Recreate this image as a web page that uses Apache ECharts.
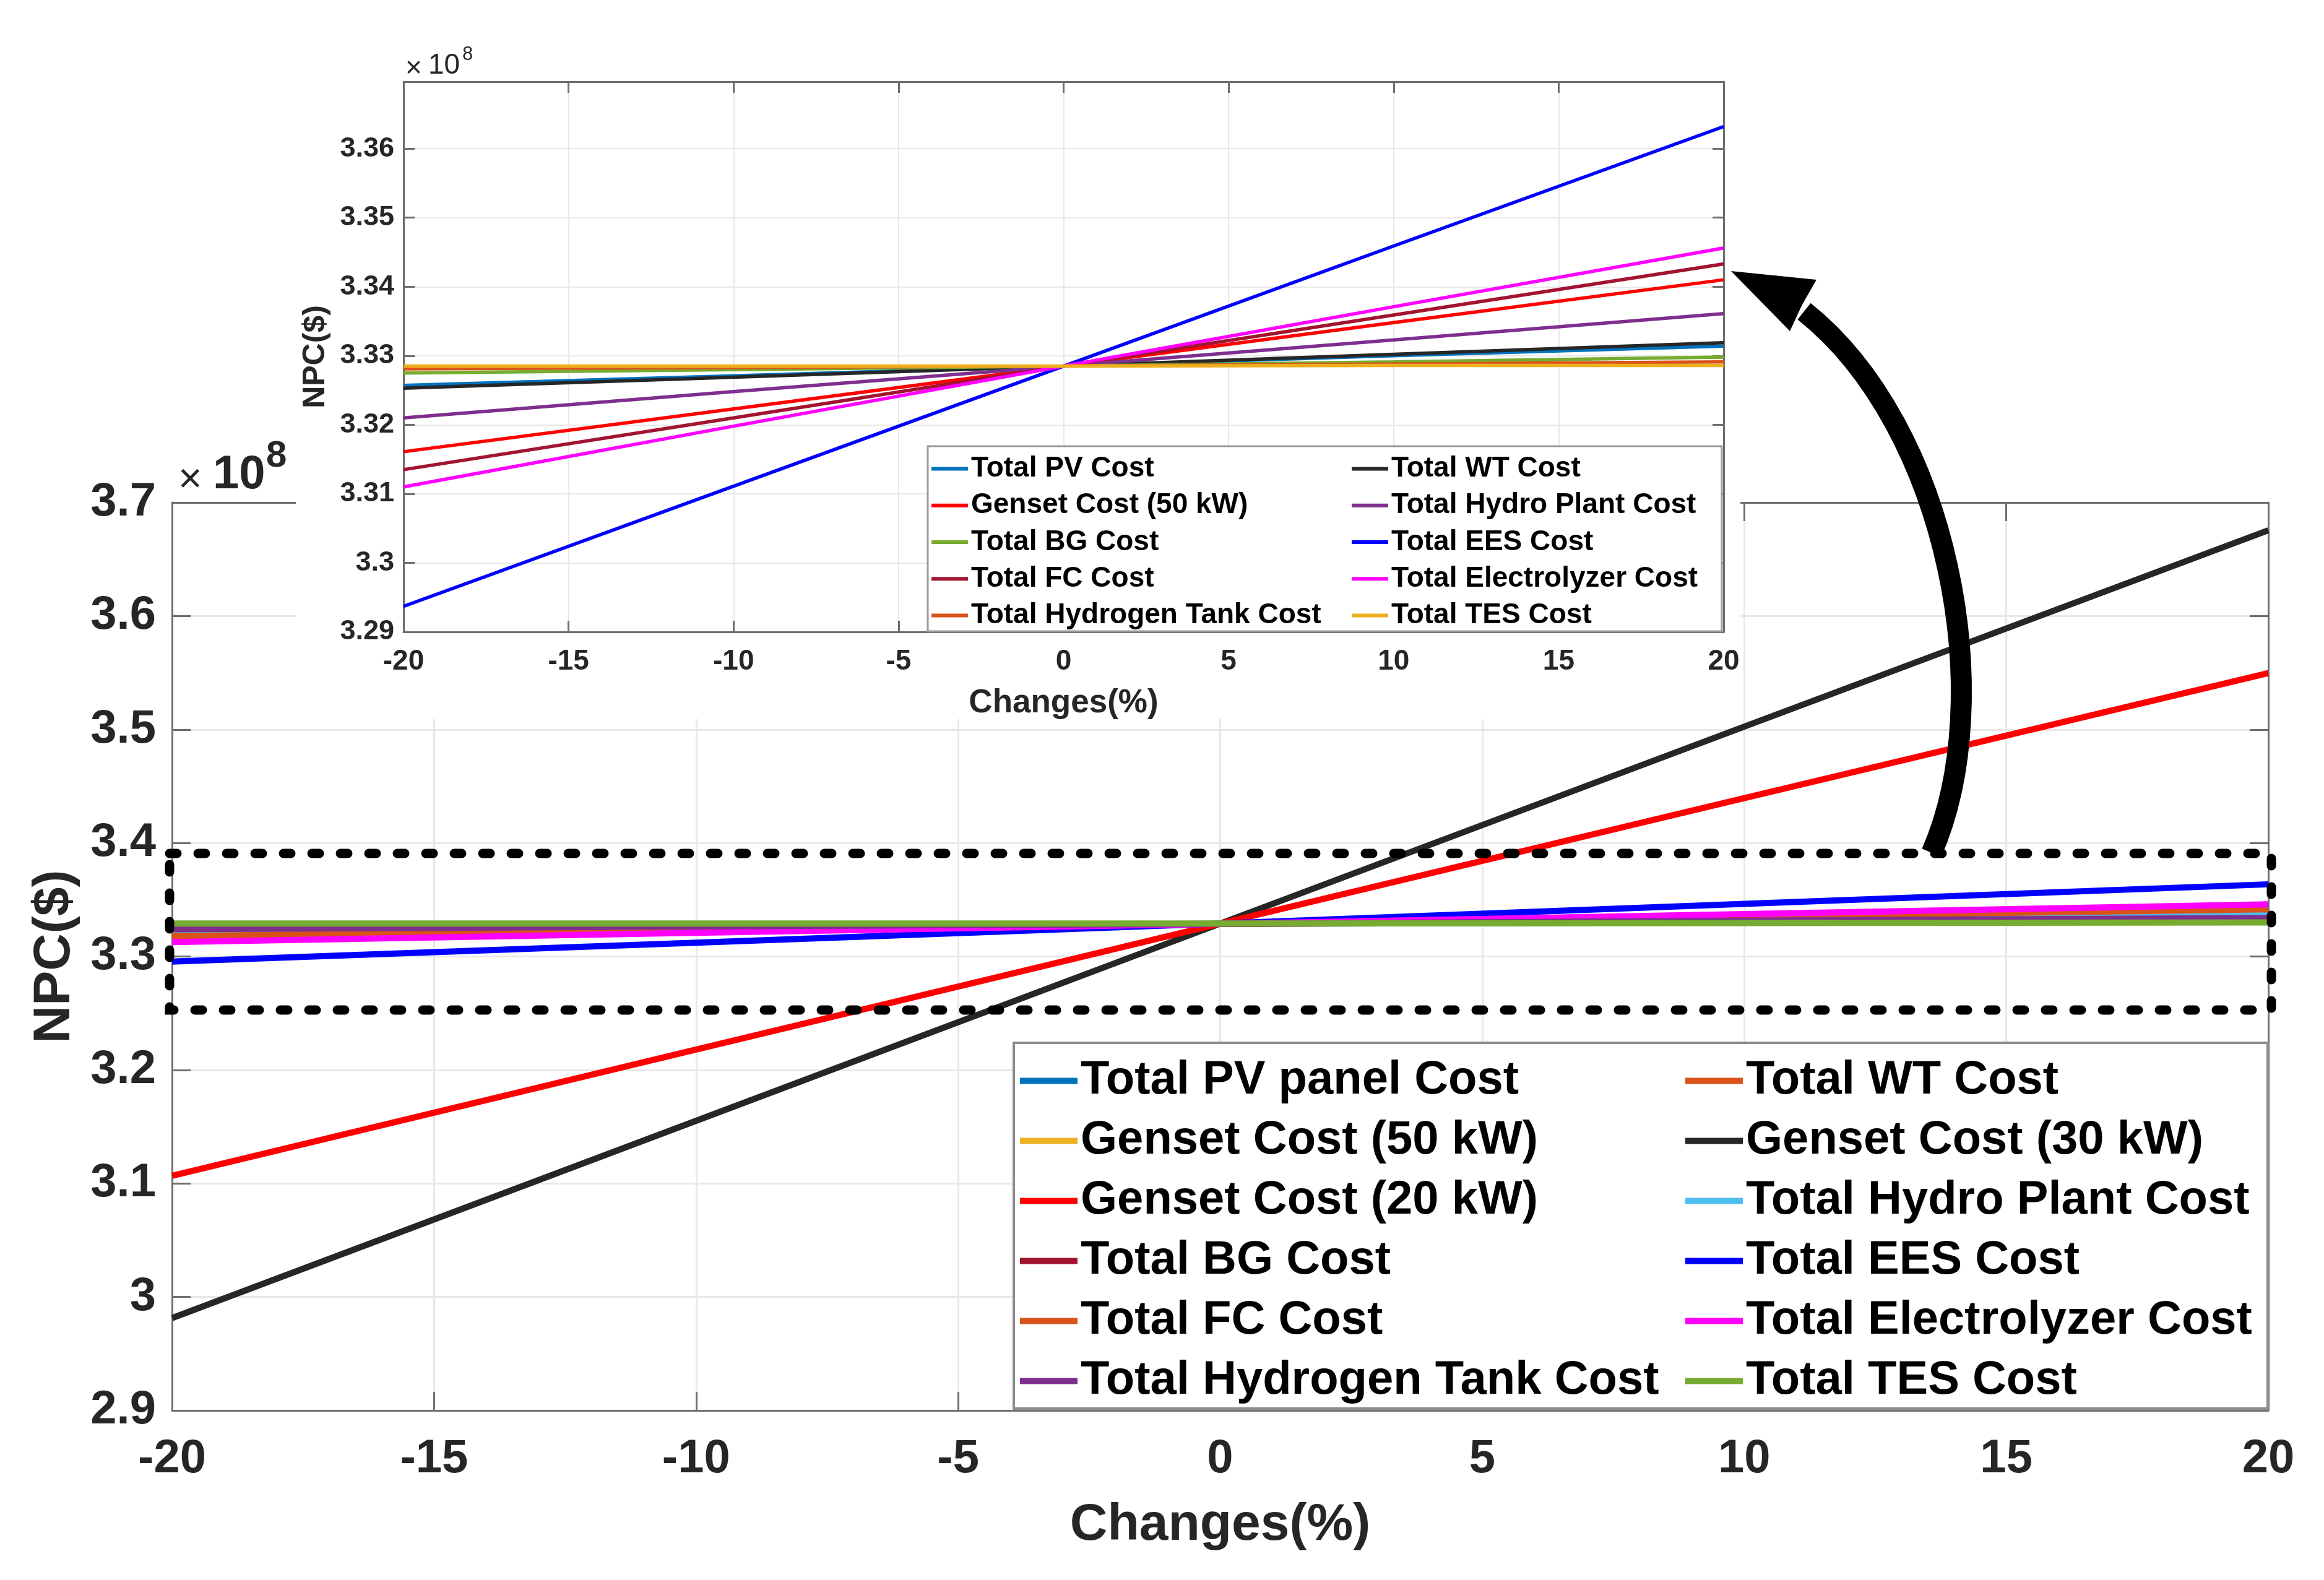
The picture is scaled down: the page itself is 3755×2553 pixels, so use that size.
<!DOCTYPE html>
<html><head><meta charset="utf-8">
<script src="https://cdn.jsdelivr.net/npm/echarts@6/dist/echarts.min.js"></script>
<style>html,body{margin:0;padding:0;background:#fff}#c{width:3755px;height:2553px}</style>
</head><body><div id="c"></div>
<script>
// ---------- data (NPC in units of 1e8 $) ----------
const changes = [-20, -10, 0, 10, 20];
const yTicksMain = [2.9, 3.7, 0.1];      // min, max, step
const yTicksInset = [3.29, 3.3697, 0.01];

// main chart series
const mainNames = ['Total PV panel Cost','Total WT Cost','Genset Cost (50 kW)','Genset Cost (30 kW)','Genset Cost (20 kW)','Total Hydro Plant Cost','Total BG Cost','Total EES Cost','Total FC Cost','Total Electrolyzer Cost','Total Hydrogen Tank Cost','Total TES Cost'];
const mainColors = ['#0072BD','#D95319','#EDB120','#262626','#FF0000','#4DBEEE','#A2142F','#0000FF','#D95319','#FF00FF','#7E2F8E','#77AC30'];
const mainPV       = [3.3258, 3.3272, 3.3288, 3.3300, 3.3312];
const mainWT       = [3.3255, 3.3272, 3.3288, 3.3303, 3.3318];
const mainGen50    = [3.3160, 3.3224, 3.3288, 3.3350, 3.3410];
const mainGen30    = [2.9814, 3.1552, 3.3290, 3.5025, 3.6755];
const mainGen20    = [3.1067, 3.2180, 3.3290, 3.4395, 3.5497];
const mainHydro    = [3.3227, 3.3258, 3.3288, 3.3326, 3.3364];
const mainBG       = [3.3265, 3.3276, 3.3288, 3.3310, 3.3330];
const mainEES      = [3.2955, 3.3122, 3.3290, 3.3463, 3.3636];
const mainFC       = [3.3180, 3.3234, 3.3288, 3.3352, 3.3416];
const mainElec     = [3.3127, 3.3208, 3.3288, 3.3374, 3.3460];
const mainH2Tank   = [3.3240, 3.3264, 3.3288, 3.3316, 3.3340];
const mainTES      = [3.3290, 3.3290, 3.3290, 3.3295, 3.3300];
const mainValues = [mainPV, mainWT, mainGen50, mainGen30, mainGen20, mainHydro, mainBG, mainEES, mainFC, mainElec, mainH2Tank, mainTES];

// inset (zoomed) series
const insetNames = ['Total PV Cost','Total WT Cost','Genset Cost (50 kW)','Total Hydro Plant Cost','Total BG Cost','Total EES Cost','Total FC Cost','Total Electrolyzer Cost','Total Hydrogen Tank Cost','Total TES Cost'];
const insetColors = ['#0072BD','#262626','#FF0000','#7E2F8E','#77AC30','#0000FF','#A2142F','#FF00FF','#D95319','#EDB120'];
const insetPV      = [3.3257, 3.3271, 3.3285, 3.3300, 3.3314];
const insetWT      = [3.3253, 3.3269, 3.3285, 3.3302, 3.3319];
const insetGen50   = [3.3161, 3.3223, 3.3285, 3.3348, 3.3410];
const insetHydro   = [3.3210, 3.3248, 3.3285, 3.3323, 3.3361];
const insetBG      = [3.3275, 3.3280, 3.3285, 3.3291, 3.3298];
const insetEES     = [3.2937, 3.3111, 3.3285, 3.3459, 3.3632];
const insetFC      = [3.3135, 3.3210, 3.3285, 3.3359, 3.3433];
const insetElec    = [3.3110, 3.3198, 3.3285, 3.3371, 3.3456];
const insetH2Tank  = [3.3281, 3.3283, 3.3285, 3.3288, 3.3291];
const insetTES     = [3.3285, 3.3285, 3.3285, 3.3286, 3.3286];
const insetValues = [insetPV, insetWT, insetGen50, insetHydro, insetBG, insetEES, insetFC, insetElec, insetH2Tank, insetTES];

// ---------- build ----------
const FF = 'Liberation Sans, Arial, Helvetica, sans-serif';
const pair = arr => changes.map((x, i) => [x, arr[i]]);
const fmtY = v => String(+v.toFixed(3));

const series = [];
mainNames.forEach((n, i) => series.push({
  name: n, type: 'line', xAxisIndex: 0, yAxisIndex: 0, data: pair(mainValues[i]),
  symbol: 'none', silent: true, z: 2, color: mainColors[i],
  lineStyle: {width: 10, color: mainColors[i]}
}));
insetNames.forEach((n, i) => series.push({
  name: n, type: 'line', xAxisIndex: 1, yAxisIndex: 1, data: pair(insetValues[i]),
  symbol: 'none', silent: true, z: 7, color: insetColors[i],
  lineStyle: {width: 5.5, color: insetColors[i]}
}));

const axisCol = '#6e6e6e';
function xAx(grid, pos, main, z) {
  const o = {
    gridIndex: grid, type: 'value', min: -20, max: 20, interval: 5, position: pos, z: z,
    axisLine: {show: true, onZero: false, lineStyle: {color: axisCol, width: 3}},
    axisTick: {show: true, inside: true, length: main ? 30 : 18, lineStyle: {color: axisCol, width: 3}},
    splitLine: {show: pos === 'bottom', lineStyle: {color: '#e8e8e8', width: main ? 3 : 2}},
    axisLabel: {show: pos === 'bottom', fontFamily: FF, fontWeight: 'bold', color: '#262626',
      fontSize: main ? 76 : 46, margin: main ? 41 : 25}
  };
  if (pos === 'bottom') {
    o.name = 'Changes(%)'; o.nameLocation = 'middle'; o.nameGap = main ? 144 : 89;
    o.nameTextStyle = {fontFamily: FF, fontWeight: 'bold', color: '#262626', fontSize: main ? 84 : 53};
  }
  return o;
}
function yAx(grid, pos, main, z) {
  const t = main ? yTicksMain : yTicksInset;
  const o = {
    gridIndex: grid, type: 'value', min: t[0], max: t[1], interval: t[2], position: pos, z: z,
    axisLine: {show: true, onZero: false, lineStyle: {color: axisCol, width: 3}},
    axisTick: {show: true, inside: true, length: main ? 30 : 18, lineStyle: {color: axisCol, width: 3}},
    splitLine: {show: pos === 'left', lineStyle: {color: '#e8e8e8', width: main ? 3 : 2}},
    axisLabel: {show: pos === 'left', fontFamily: FF, fontWeight: 'bold', color: '#262626',
      fontSize: main ? 76 : 45, margin: main ? 26 : 15, formatter: fmtY, showMaxLabel: main ? true : false}
  };
  if (pos === 'left') {
    o.name = 'NPC($)'; o.nameLocation = 'middle'; o.nameGap = main ? 147 : 117;
    o.nameTextStyle = {fontFamily: FF, fontWeight: 'bold', color: '#262626', fontSize: main ? 84 : 50};
  }
  return o;
}

function legendCol(names, colors, idxs, left, top, main) {
  return {
    orient: 'vertical', left: left, top: top, padding: 0, itemGap: 0,
    itemWidth: main ? 93 : 59, itemHeight: main ? 10 : 6, icon: 'rect',
    selectedMode: false, z: main ? 4 : 9,
    itemStyle: {borderWidth: 0},
    textStyle: {fontFamily: FF, fontWeight: 'bold', color: '#000', fontSize: main ? 76 : 46, lineHeight: main ? 97 : 59.2},
    data: idxs.map(i => ({name: names[i], itemStyle: {color: colors[i], borderWidth: 0}}))
  };
}

const option = {
  animation: false,
  backgroundColor: '#ffffff',
  textStyle: {fontFamily: FF},
  grid: [
    {left: 278, top: 812, width: 3387, height: 1467, show: false},
    {left: 652, top: 132, width: 2133, height: 889, show: false}
  ],
  xAxis: [xAx(0, 'bottom', true, 0), xAx(1, 'bottom', false, 6), xAx(0, 'top', true, 0), xAx(1, 'top', false, 6)],
  yAxis: [yAx(0, 'left', true, 0), yAx(1, 'left', false, 6), yAx(0, 'right', true, 0), yAx(1, 'right', false, 6)],
  legend: [
    legendCol(mainNames, mainColors, [0, 2, 4, 6, 8, 10], 1648, 1698, true),
    legendCol(mainNames, mainColors, [1, 3, 5, 7, 9, 11], 2723, 1698, true),
    legendCol(insetNames, insetColors, [0, 2, 4, 6, 8], 1505, 728, false),
    legendCol(insetNames, insetColors, [1, 3, 5, 7, 9], 2184, 728, false)
  ],
  series: series,
  graphic: [
    // white backdrop of the inset axes
    {type: 'rect', z: 5, silent: true, shape: {x: 478, y: 50, width: 2334, height: 1112}, style: {fill: '#fff'}},
    // legend boxes
    {type: 'rect', z: 3, silent: true, shape: {x: 1638, y: 1685, width: 2026, height: 591}, style: {fill: '#fff', stroke: '#8c8c8c', lineWidth: 4}},
    {type: 'rect', z: 8, silent: true, shape: {x: 1499, y: 721, width: 1283, height: 299}, style: {fill: '#fff', stroke: '#9a9a9a', lineWidth: 3}},
    // x10^8 multipliers
    {type: 'text', z: 1, silent: true, style: {x: 288, y: 777, text: '×', fontFamily: FF, fontSize: 66, fill: '#262626', verticalAlign: 'middle', align: 'left'}},
    {type: 'text', z: 1, silent: true, style: {x: 344, y: 768, text: '10', fontFamily: FF, fontWeight: 'bold', fontSize: 76, fill: '#262626', verticalAlign: 'middle', align: 'left'}},
    {type: 'text', z: 1, silent: true, style: {x: 430, y: 737, text: '8', fontFamily: FF, fontWeight: 'bold', fontSize: 60, fill: '#262626', verticalAlign: 'middle', align: 'left'}},
    {type: 'text', z: 9, silent: true, style: {x: 655, y: 111, text: '×', fontFamily: FF, fontSize: 46, fill: '#262626', verticalAlign: 'middle', align: 'left'}},
    {type: 'text', z: 9, silent: true, style: {x: 692, y: 106, text: '10', fontFamily: FF, fontSize: 46, fill: '#262626', verticalAlign: 'middle', align: 'left'}},
    {type: 'text', z: 9, silent: true, style: {x: 747, y: 88, text: '8', fontFamily: FF, fontSize: 31, fill: '#262626', verticalAlign: 'middle', align: 'left'}},
    // dashed zoom rectangle
    {type: 'rect', z: 20, silent: true, shape: {x: 274, y: 1379, width: 3396, height: 253},
      style: {fill: 'none', stroke: '#000', lineWidth: 15, lineDash: [12, 34], lineCap: 'round'}},
    // curved arrow
    {type: 'bezierCurve', z: 20, silent: true,
      shape: {x1: 3121, y1: 1378, cpx1: 3230, cpy1: 1130, cpx2: 3150, cpy2: 690, x2: 2915, y2: 503},
      style: {fill: 'none', stroke: '#000', lineWidth: 34}},
    {type: 'polygon', z: 21, silent: true,
      shape: {points: [[2797, 438], [2935, 452], [2912, 492], [2892, 535]]},
      style: {fill: '#000'}}
  ]
};
const chart = echarts.init(document.getElementById('c'), null, {renderer: 'canvas', width: 3755, height: 2553});
chart.setOption(option);
</script>
</body></html>
